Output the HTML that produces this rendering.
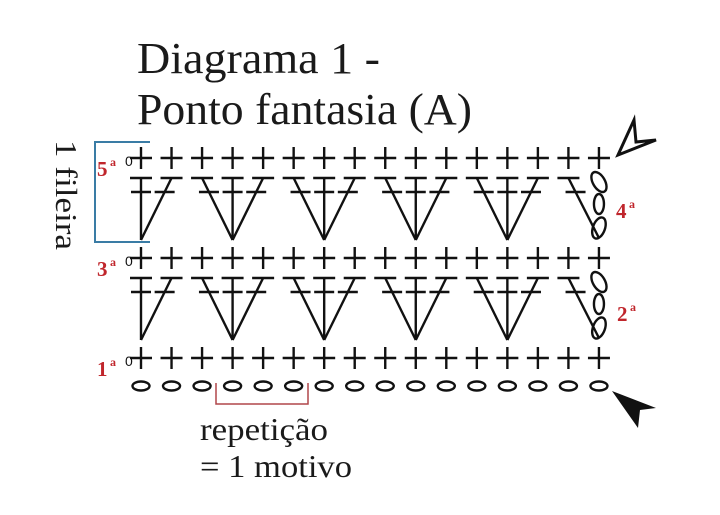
<!DOCTYPE html>
<html><head><meta charset="utf-8"><style>
body{margin:0;background:#fff}
svg{display:block}
.t{font-family:"Liberation Serif",serif;fill:#1a1a1a}
.r{font-family:"Liberation Serif",serif;fill:#c0262c;font-weight:bold}
</style></head><body>
<svg id="s" width="720" height="515" viewBox="0 0 720 515" xmlns="http://www.w3.org/2000/svg">
<text class="t" x="137" y="73" font-size="44" textLength="243" lengthAdjust="spacingAndGlyphs">Diagrama 1 -</text>
<text class="t" x="137" y="124" font-size="44" textLength="335" lengthAdjust="spacingAndGlyphs">Ponto fantasia (A)</text>
<text class="t" font-size="31" textLength="110" lengthAdjust="spacingAndGlyphs" transform="translate(56,140) rotate(90)">1 fileira</text>
<path d="M150 142 H95 V242 H150" fill="none" stroke="#3a7ca5" stroke-width="2"/>
<text class="r" x="97" y="176" font-size="21">5</text><text class="r" x="110" y="166" font-size="12">a</text>
<text class="r" x="97" y="276" font-size="21">3</text><text class="r" x="110" y="266" font-size="12">a</text>
<text class="r" x="97" y="376" font-size="21">1</text><text class="r" x="110" y="366" font-size="12">a</text>
<text class="r" x="616" y="218" font-size="21">4</text><text class="r" x="629" y="208" font-size="12">a</text>
<text class="r" x="617" y="321" font-size="21">2</text><text class="r" x="630" y="311" font-size="12">a</text>
<path d="M216 383 V404 H308 V383" fill="none" stroke="#b0474a" stroke-width="1.5"/>
<text class="t" x="200" y="440" font-size="32" textLength="128" lengthAdjust="spacingAndGlyphs">repetição</text>
<text class="t" x="200" y="477" font-size="32" textLength="152" lengthAdjust="spacingAndGlyphs">= 1 motivo</text>
<path d="M618 155 L634 120 L636 142 L656 140 Z" fill="none" stroke="#111" stroke-width="3" stroke-linejoin="miter"/>
<path d="M612 391 L656 408 L640 410 L638 428 Z" fill="#111"/>
<g id="g" stroke="#111" stroke-width="2.4" fill="none"></g>
</svg>
<script>
var g=document.getElementById('g'),h='';
function L(a,b,c,d){h+='<line x1="'+a+'" y1="'+b+'" x2="'+c+'" y2="'+d+'"/>';}
function E(x,y,rx,ry,rot){h+='<ellipse cx="'+x+'" cy="'+y+'" rx="'+rx+'" ry="'+ry+'" transform="rotate('+(rot||0)+' '+x+' '+y+')"/>';}
var X=[];for(var i=0;i<16;i++)X.push(141+i*30.53);
[158,258,358].forEach(function(y){X.forEach(function(x){L(x-11,y,x+11,y);L(x,y-11,x,y+11);});
 h+='<text x="125" y="'+(y+8)+'" font-family="Liberation Sans" font-size="14" fill="#111" stroke="none">0</text>';});
X.forEach(function(x){E(x,386,8.5,4.5);});
function dc(x1,y1,x2,y2){L(x1-11,y1,x1+11,y1);var t=14/(y2-y1);var mx=x1+(x2-x1)*t,my=y1+14;L(mx-10,my,mx+10,my);L(x1,y1,x2,y2);}
[178,278].forEach(function(t){var b=t+62;
 dc(X[0],t,X[0],b);dc(X[1],t,X[0],b);
 for(var k=0;k<4;k++){var c=X[3+3*k];dc(c-30.53,t,c,b);dc(c,t,c,b);dc(c+30.53,t,c,b);}
 dc(X[14],t,X[15],b-2);
 E(X[15],t+4,6,11,-30);E(X[15],t+26,5,10,0);E(X[15],t+50,6,11,20);
});
g.innerHTML=h;
</script>
</body></html>
